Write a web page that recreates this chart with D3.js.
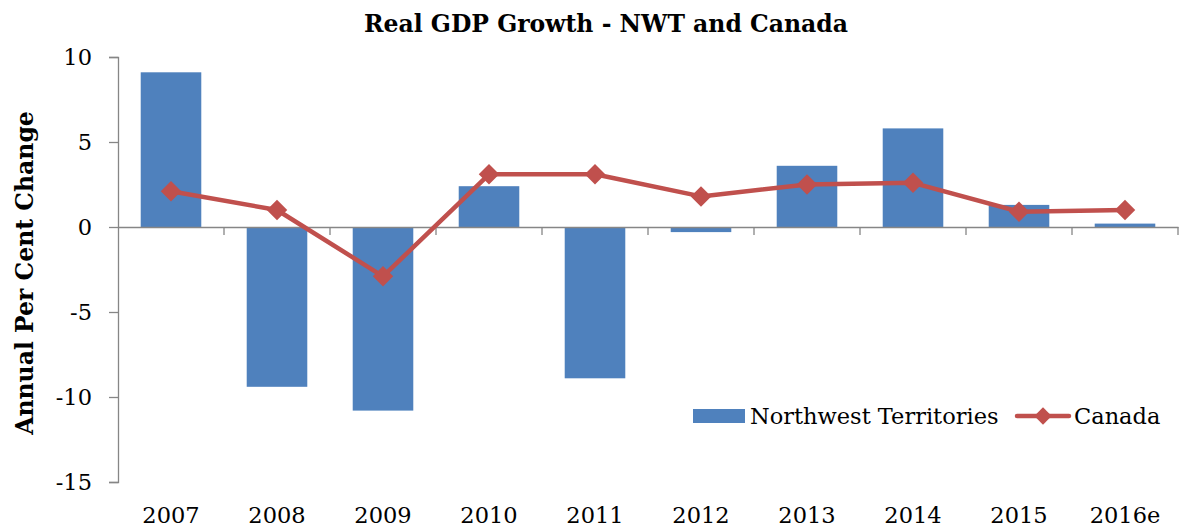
<!DOCTYPE html>
<html>
<head>
<meta charset="utf-8">
<script src="https://cdn.jsdelivr.net/npm/d3@7"></script>
<style>
  body { margin: 0; background: #fff; }
  text { font-family: "DejaVu Serif", serif; fill: #000; }
</style>
</head>
<body>
<div id="chart"></div>
<script>
var years = ["2007", "2008", "2009", "2010", "2011", "2012", "2013", "2014", "2015", "2016e"];
var nwt = [9.1, -9.4, -10.8, 2.4, -8.9, -0.3, 3.6, 5.8, 1.3, 0.2];
var canada = [2.1, 1.0, -2.9, 3.1, 3.1, 1.8, 2.5, 2.6, 0.9, 1.0];
var yTicks = [-15, -10, -5, 0, 5, 10];

var svgWidth = 1180;
var svgHeight = 529;
var margin = { top: 57, right: 2, bottom: 47, left: 118 };
var width = svgWidth - margin.left - margin.right;
var height = svgHeight - margin.top - margin.bottom;

var blue = "#4f81bd";
var red = "#c0504d";
var axisGrey = "#868686";
var fontSize = "22.5px";

var svg = d3.select("#chart")
  .append("svg")
  .attr("width", svgWidth)
  .attr("height", svgHeight);

var chartGroup = svg.append("g")
  .attr("transform", `translate(${margin.left}, ${margin.top})`);

// scales
var x = d3.scaleBand()
  .domain(years)
  .range([0, width])
  .padding(0);

var y = d3.scaleLinear()
  .domain([-15, 10])
  .range([height, 0]);

var barW = x.bandwidth() / 1.75;

// bars
chartGroup.selectAll(".bar")
  .data(nwt)
  .enter()
  .append("rect")
  .attr("class", "bar")
  .attr("x", (d, i) => x(years[i]) + (x.bandwidth() - barW) / 2)
  .attr("width", barW)
  .attr("y", d => y(Math.max(0, d)))
  .attr("height", d => Math.abs(y(d) - y(0)))
  .attr("fill", blue);

// y axis
var leftAxis = d3.axisLeft(y)
  .tickValues(yTicks)
  .tickSize(9)
  .tickPadding(17)
  .tickFormat(d => String(d));
var yAxisG = chartGroup.append("g").call(leftAxis);
yAxisG.select(".domain").attr("stroke", axisGrey).attr("stroke-width", 1.3);
yAxisG.selectAll(".tick line").attr("stroke", axisGrey).attr("stroke-width", 1.3);
yAxisG.selectAll(".tick text")
  .style("font-family", "DejaVu Serif, serif")
  .style("font-size", fontSize)
  .attr("fill", "#000");

// x axis along zero line
var bottomAxis = d3.axisBottom(x).tickSize(0).tickFormat("");
var xAxisG = chartGroup.append("g")
  .attr("transform", `translate(0, ${y(0)})`)
  .call(bottomAxis);
xAxisG.select(".domain").attr("stroke", axisGrey).attr("stroke-width", 1.3);

// category boundary ticks
chartGroup.append("g")
  .selectAll("line")
  .data(years.slice(1).concat(["end"]))
  .enter()
  .append("line")
  .attr("x1", d => d === "end" ? width : x(d))
  .attr("x2", d => d === "end" ? width : x(d))
  .attr("y1", y(0))
  .attr("y2", y(0) + 8)
  .attr("stroke", axisGrey)
  .attr("stroke-width", 1.3);

// year labels at bottom
chartGroup.append("g")
  .selectAll("text")
  .data(years)
  .enter()
  .append("text")
  .attr("x", d => x(d) + x.bandwidth() / 2)
  .attr("y", height + 41)
  .attr("text-anchor", "middle")
  .attr("font-size", fontSize)
  .text(d => d);

// Canada line
var line = d3.line()
  .x((d, i) => x(years[i]) + x.bandwidth() / 2)
  .y(d => y(d));

chartGroup.append("path")
  .datum(canada)
  .attr("fill", "none")
  .attr("stroke", red)
  .attr("stroke-width", 4.5)
  .attr("stroke-linejoin", "round")
  .attr("d", line);

var diamond = d3.symbol().type(d3.symbolSquare).size(210);

chartGroup.selectAll(".pt")
  .data(canada)
  .enter()
  .append("path")
  .attr("class", "pt")
  .attr("d", diamond)
  .attr("transform", (d, i) => `translate(${x(years[i]) + x.bandwidth() / 2}, ${y(d)}) rotate(45)`)
  .attr("fill", red);

// title
svg.append("text")
  .attr("x", 606)
  .attr("y", 32)
  .attr("text-anchor", "middle")
  .attr("font-size", "23.5px")
  .attr("font-weight", "bold")
  .text("Real GDP Growth - NWT and Canada");

// y axis label
svg.append("text")
  .attr("transform", "translate(33, 273) rotate(-90)")
  .attr("text-anchor", "middle")
  .attr("font-size", "23.5px")
  .attr("font-weight", "bold")
  .text("Annual Per Cent Change");

// legend
var legend = svg.append("g");
legend.append("rect")
  .attr("x", 693)
  .attr("y", 409)
  .attr("width", 52)
  .attr("height", 14)
  .attr("fill", blue);
legend.append("text")
  .attr("x", 750)
  .attr("y", 424)
  .attr("font-size", fontSize)
  .text("Northwest Territories");
legend.append("line")
  .attr("x1", 1017)
  .attr("x2", 1069)
  .attr("y1", 416)
  .attr("y2", 416)
  .attr("stroke", red)
  .attr("stroke-width", 4.5)
  .attr("stroke-linecap", "round");
legend.append("path")
  .attr("d", d3.symbol().type(d3.symbolSquare).size(150))
  .attr("transform", "translate(1043, 416) rotate(45)")
  .attr("fill", red);
legend.append("text")
  .attr("x", 1074)
  .attr("y", 424)
  .attr("font-size", fontSize)
  .text("Canada");
</script>
</body>
</html>
